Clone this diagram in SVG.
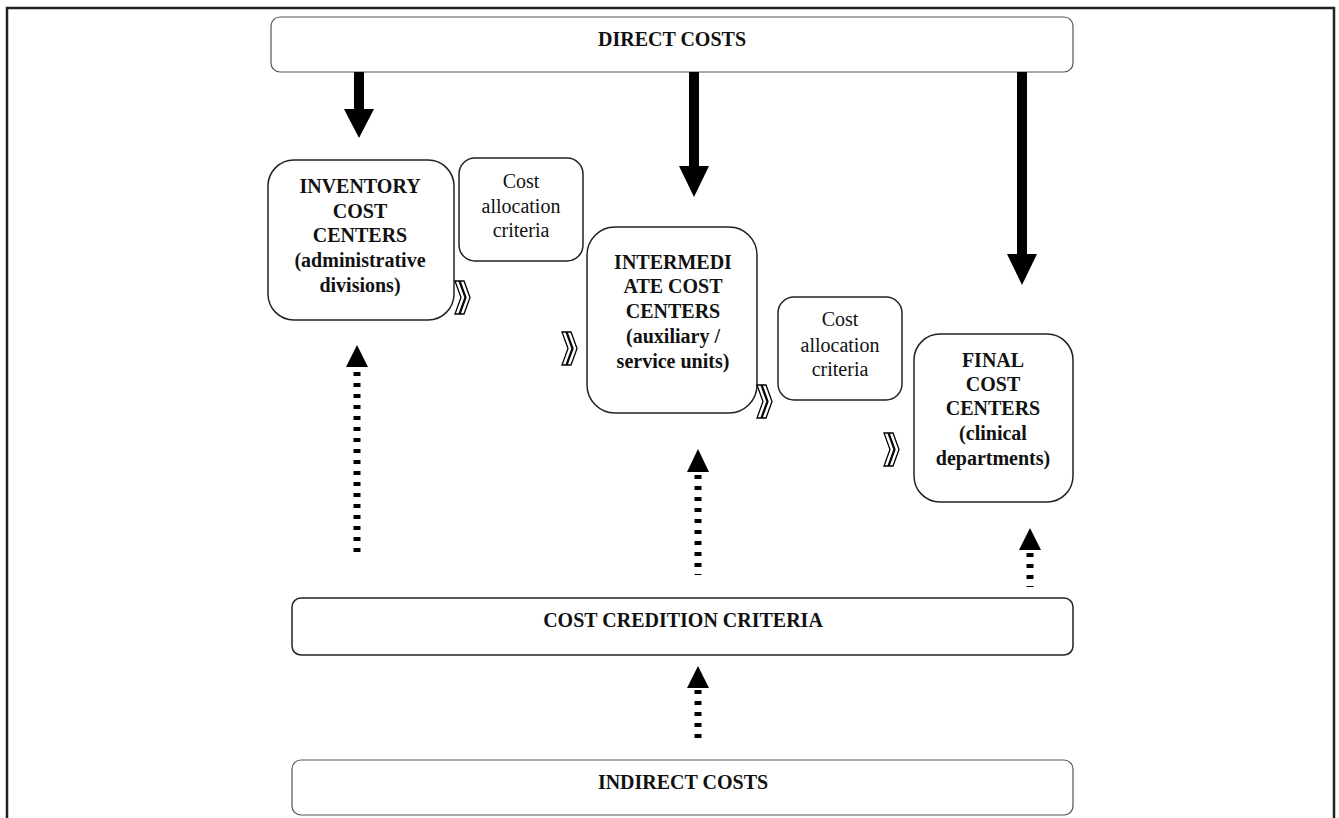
<svg xmlns="http://www.w3.org/2000/svg" width="1339" height="818" viewBox="0 0 1339 818">
<style>
.box{fill:#fff;stroke:#222;stroke-width:1.5}
.thin{fill:#fff;stroke:#555;stroke-width:1.2}
.b{font-family:"Liberation Serif","Times New Roman",serif;font-weight:bold;font-size:20px;text-anchor:middle;fill:#111}
.n{font-family:"Liberation Serif","Times New Roman",serif;font-size:20px;text-anchor:middle;fill:#111}
.h{font-family:"Liberation Serif","Times New Roman",serif;font-weight:bold;font-size:20px;text-anchor:middle;fill:#111}
.dot{stroke:#000;stroke-width:7;stroke-dasharray:4 7;fill:none}
.chev{fill:#fff;stroke:#000;stroke-width:1.3;stroke-linejoin:miter}
</style>
<defs>
<g id="chevron">
<path class="chev" d="M0,0 L4,0 L10,16.5 L4,33 L0,33 L6,16.5 Z"/>
<path class="chev" d="M5,0 L9,0 L15,16.5 L9,33 L5,33 L11,16.5 Z"/>
</g>
</defs>
<rect x="0" y="0" width="1339" height="818" fill="#fff"/>
<rect x="7" y="8" width="1327" height="830" fill="none" stroke="#222" stroke-width="2.5"/>

<g id="direct-costs">
<rect class="thin" x="271" y="17" width="802" height="55" rx="9"/>
<text class="h" x="672" y="46">DIRECT COSTS</text>
</g>

<g id="inventory">
<rect class="box" x="268" y="160" width="186" height="160" rx="26"/>
<text class="b" x="360" y="193">INVENTORY</text>
<text class="b" x="360" y="218">COST</text>
<text class="b" x="360" y="242">CENTERS</text>
<text class="b" x="360" y="267">(administrative</text>
<text class="b" x="360" y="292">divisions)</text>
</g>

<g id="criteria1">
<rect class="box" x="459" y="158" width="124" height="103" rx="16"/>
<text class="n" x="521" y="188">Cost</text>
<text class="n" x="521" y="213">allocation</text>
<text class="n" x="521" y="237">criteria</text>
</g>

<g id="intermediate">
<rect class="box" x="587" y="227" width="170" height="186" rx="28"/>
<text class="b" x="673" y="269">INTERMEDI</text>
<text class="b" x="673" y="293">ATE COST</text>
<text class="b" x="673" y="318">CENTERS</text>
<text class="b" x="673" y="343">(auxiliary /</text>
<text class="b" x="673" y="368">service units)</text>
</g>

<g id="criteria2">
<rect class="box" x="778" y="297" width="124" height="103" rx="16"/>
<text class="n" x="840" y="326">Cost</text>
<text class="n" x="840" y="352">allocation</text>
<text class="n" x="840" y="376">criteria</text>
</g>

<g id="final">
<rect class="box" x="914" y="334" width="159" height="168" rx="26"/>
<text class="b" x="993" y="367">FINAL</text>
<text class="b" x="993" y="391">COST</text>
<text class="b" x="993" y="415">CENTERS</text>
<text class="b" x="993" y="440">(clinical</text>
<text class="b" x="993" y="465">departments)</text>
</g>

<g id="credition">
<rect class="box" x="292" y="598" width="781" height="57" rx="9"/>
<text class="h" x="683" y="627">COST CREDITION CRITERIA</text>
</g>

<g id="indirect">
<rect class="thin" x="292" y="760" width="781" height="55" rx="9"/>
<text class="h" x="683" y="789">INDIRECT COSTS</text>
</g>

<g id="connectors">
<rect x="354" y="72" width="10" height="38"/>
<polygon points="344,109 374,109 359,138"/>
<rect x="689" y="72" width="10" height="95"/>
<polygon points="679,166 709,166 694,197"/>
<rect x="1017" y="72" width="10" height="183"/>
<polygon points="1007,254 1037,254 1022,285"/>
<line class="dot" x1="357" y1="372" x2="357" y2="556"/>
<polygon points="346,367 368,367 357,345"/>
<line class="dot" x1="698" y1="475" x2="698" y2="575"/>
<polygon points="687,472 709,472 698,449"/>
<line class="dot" x1="1030" y1="553" x2="1030" y2="587"/>
<polygon points="1019,550 1041,550 1030,528"/>
<line class="dot" x1="698" y1="690" x2="698" y2="743"/>
<polygon points="687,688 709,688 698,666"/>
<use href="#chevron" x="455" y="281"/>
<use href="#chevron" x="562" y="332"/>
<use href="#chevron" x="757" y="385"/>
<use href="#chevron" x="884" y="433"/>
</g>
</svg>
